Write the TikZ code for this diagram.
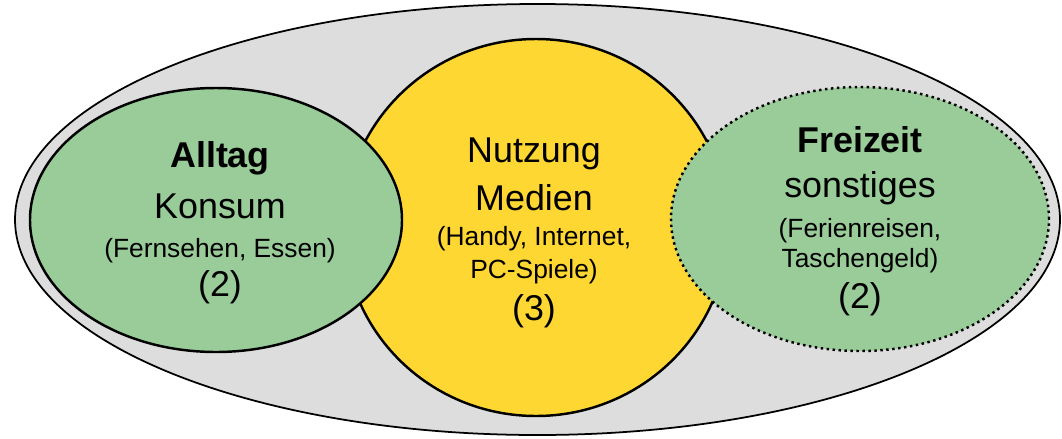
\documentclass[tikz,border=0pt]{standalone}
\usepackage{fontspec}
\setmainfont{Liberation Sans}
\usetikzlibrary{shapes.geometric}
\definecolor{bggray}{RGB}{221,221,221}
\definecolor{leafgreen}{RGB}{153,204,153}
\definecolor{sunyellow}{RGB}{255,215,51}
\newcommand{\bigline}{\fontsize{10.2}{13}\selectfont}
\newcommand{\smallline}{\fontsize{7.5}{9}\selectfont}

\begin{document}
\begin{tikzpicture}[
  blob/.style={ellipse, draw, line width=0.7pt, inner sep=0pt},
  txt/.style={align=center, inner sep=0pt, font=\bigline},
]
\useasboundingbox (0,0) rectangle (10.62,4.38);
\node[blob, fill=bggray, line width=0.5pt, minimum width=10.45cm, minimum height=4.31cm] (outer) at (5.375,2.185) {};
\node[blob, fill=sunyellow, minimum width=3.84cm, minimum height=3.77cm] (medien) at (5.36,2.105) {};
\node[blob, fill=leafgreen, minimum width=3.72cm, minimum height=2.64cm] (alltag) at (2.16,2.18) {};
\node[blob, fill=leafgreen, densely dotted, minimum width=3.78cm, minimum height=2.64cm] (freizeit) at (8.60,2.19) {};
% Beschriftungen
\node[txt] (medientxt) at ([xshift=-0.02cm,yshift=-0.05cm]medien)
  {Nutzung\\[0.6pt]Medien\\[-3pt]{\smallline (Handy, Internet,}\\[-3.6pt]{\smallline PC-Spiele)}\\[-1.1pt](3)};
\node[txt] (alltagtxt) at ([xshift=0.04cm,yshift=-0.03cm]alltag)
  {\textbf{Alltag}\\[1.6pt]Konsum\\[-1.9pt]{\smallline (Fernsehen, Essen)}\\[-1.9pt](2)};
\node[txt] (freizeittxt) at ([yshift=-0.025cm]freizeit)
  {\textbf{Freizeit}\\[-0.2pt]sonstiges\\[-1.6pt]{\smallline (Ferienreisen,}\\[-4.5pt]{\smallline Taschengeld)}\\[-1.4pt](2)};
\end{tikzpicture}
\end{document}
